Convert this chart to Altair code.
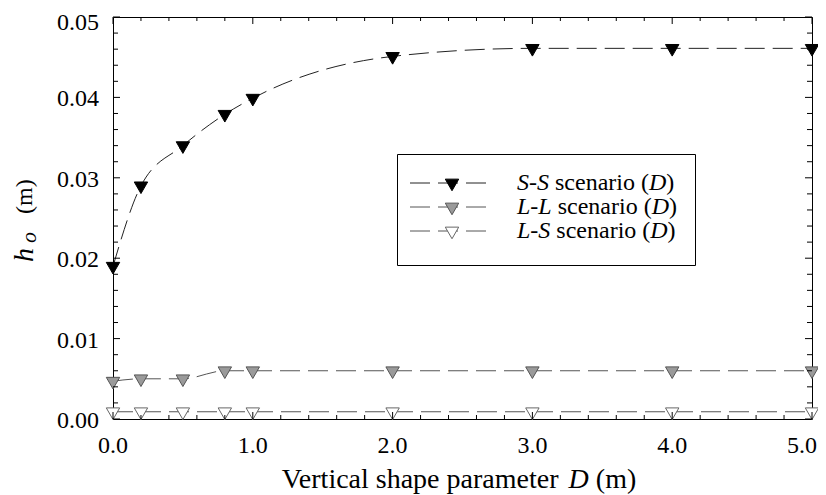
import altair as alt
import pandas as pd

# ---------------- data ----------------
D_values = [0.0, 0.2, 0.5, 0.8, 1.0, 2.0, 3.0, 4.0, 5.0]
ss_values = [0.0190, 0.0290, 0.0340, 0.0379, 0.0399, 0.0451, 0.0461, 0.0461, 0.0461]
ll_values = [0.0047, 0.0050, 0.0050, 0.0060, 0.0060, 0.0060, 0.0060, 0.0060, 0.0060]
ls_values = [0.0009, 0.0009, 0.0009, 0.0009, 0.0009, 0.0009, 0.0009, 0.0009, 0.0009]
series_names = ["S-S", "L-L", "L-S"]

x_major = [0, 1, 2, 3, 4, 5]
x_minor = [0.2, 0.4, 0.6, 0.8, 1.2, 1.4, 1.6, 1.8, 2.2, 2.4, 2.6, 2.8,
           3.2, 3.4, 3.6, 3.8, 4.2, 4.4, 4.6, 4.8]
y_major = [0.0, 0.01, 0.02, 0.03, 0.04, 0.05]
y_minor = [0.002, 0.004, 0.006, 0.008, 0.012, 0.014, 0.016, 0.018,
           0.022, 0.024, 0.026, 0.028, 0.032, 0.034, 0.036, 0.038,
           0.042, 0.044, 0.046, 0.048]

# ---------------- layout / style ----------------
W, H = 699, 402
FONT = "Liberation Serif"
TRI = "M-1,-0.577L1,-0.577L0,1.155Z"  # down triangle centred on centroid
DASH = [20, 8]

styles = {
    "S-S": dict(line="#222222", fill="black", stroke="black"),
    "L-L": dict(line="#555555", fill="#9a9a9a", stroke="#555555"),
    "L-S": dict(line="#555555", fill="white", stroke="#666666"),
}

xscale = alt.Scale(domain=[0, 5], nice=False, zero=False)
yscale = alt.Scale(domain=[0, 0.05], nice=False, zero=False)

one = pd.DataFrame({"a": [0]})

ROMAN = {' ': .25, 's': .389, 'c': .444, 'e': .444, 'n': .5, 'a': .444, 'r': .333,
         'i': .278, 'o': .5, '(': .333, ')': .333, 'V': .722, 't': .278, 'l': .278,
         'h': .5, 'p': .5, 'm': .778}
ITAL = {'S': .5, 'L': .556, '-': .333, 'D': .722, 'h': .5, 'o': .5, ' ': .25}


def width(s, size, italic):
    tab = ITAL if italic else ROMAN
    return sum(tab.get(c, .5) for c in s) * size


def txt(s, x, y, size, italic=False, angle=0, align="left", baseline="alphabetic"):
    return alt.Chart(one).mark_text(
        text=s, font=FONT, fontSize=size,
        fontStyle="italic" if italic else "normal",
        angle=angle, align=align, baseline=baseline, color="black"
    ).encode(x=alt.value(x), y=alt.value(y))


def run(pieces, x0, y, size):
    """Lay out mixed-style pieces left to right; spaces become offsets."""
    out = []
    for s, it in pieces:
        lead = len(s) - len(s.lstrip(" "))
        x0 += width(" " * lead, size, it)
        core = s.strip(" ")
        if core:
            out.append(txt(core, x0, y, size, italic=it))
        x0 += width(s[lead:], size, it)
    return out


def xenc(field):
    return alt.X(field, scale=xscale, axis=None)


def yenc(field):
    return alt.Y(field, scale=yscale, axis=None)


layers = []
series_data = {"S-S": ss_values, "L-L": ll_values, "L-S": ls_values}

# plot frame (crisp, half-pixel aligned)
layers.append(alt.Chart(one).mark_rect(fill=None, stroke="black", strokeWidth=1).encode(
    x=alt.value(0.5), x2=alt.value(W + 0.5), y=alt.value(0.5), y2=alt.value(H + 0.5)))

# series lines
for name in series_names:
    df = pd.DataFrame({"D": D_values, "h": series_data[name]})
    st = styles[name]
    layers.append(alt.Chart(df).mark_line(
        color=st["line"], strokeWidth=1, strokeDash=DASH, interpolate="monotone"
    ).encode(x=xenc("D:Q"), y=yenc("h:Q")))

# series markers
for name in series_names:
    df = pd.DataFrame({"D": D_values, "h": series_data[name]})
    st = styles[name]
    layers.append(alt.Chart(df).mark_point(
        shape=TRI, size=180, fill=st["fill"], stroke=st["stroke"], strokeWidth=1,
        opacity=1, fillOpacity=1
    ).encode(x=xenc("D:Q"), y=yenc("h:Q")))


# inward ticks on all four sides
def xticks(vals, ln):
    df = pd.DataFrame({"v": vals})
    base = alt.Chart(df).mark_rule(color="black", strokeWidth=1)
    return [base.encode(x=xenc("v:Q"), y=alt.value(H), y2=alt.value(H - ln)),
            base.encode(x=xenc("v:Q"), y=alt.value(0), y2=alt.value(ln))]


def yticks(vals, ln):
    df = pd.DataFrame({"v": vals})
    base = alt.Chart(df).mark_rule(color="black", strokeWidth=1)
    return [base.encode(y=yenc("v:Q"), x=alt.value(0), x2=alt.value(ln)),
            base.encode(y=yenc("v:Q"), x=alt.value(W), x2=alt.value(W - ln))]


layers += xticks(x_major, 7) + xticks(x_minor, 4) + yticks(y_major, 7) + yticks(y_minor, 5)

# tick labels (end labels nudged so they stay inside the page)
layers.append(alt.Chart(pd.DataFrame({"v": x_major[:-1]})).mark_text(
    font=FONT, fontSize=24, align="center", baseline="alphabetic", color="black"
).encode(x=xenc("v:Q"), y=alt.value(H + 34), text=alt.Text("v:Q", format=".1f")))
layers.append(alt.Chart(pd.DataFrame({"v": x_major[-1:]})).mark_text(
    font=FONT, fontSize=24, align="right", baseline="alphabetic", color="black", dx=5
).encode(x=xenc("v:Q"), y=alt.value(H + 34), text=alt.Text("v:Q", format=".1f")))
layers.append(alt.Chart(pd.DataFrame({"v": y_major[:-1]})).mark_text(
    font=FONT, fontSize=24, align="right", baseline="alphabetic", color="black", dy=9
).encode(y=yenc("v:Q"), x=alt.value(-14), text=alt.Text("v:Q", format=".2f")))
layers.append(alt.Chart(pd.DataFrame({"v": y_major[-1:]})).mark_text(
    font=FONT, fontSize=24, align="right", baseline="alphabetic", color="black", dy=13
).encode(y=yenc("v:Q"), x=alt.value(-14), text=alt.Text("v:Q", format=".2f")))

# legend
layers.append(alt.Chart(one).mark_rect(fill="white", stroke="black", strokeWidth=1).encode(
    x=alt.value(284.5), x2=alt.value(582.5), y=alt.value(137.5), y2=alt.value(248.5)))
row_y = [166, 190, 214]
LEG = 24
for name, ry in zip(series_names, row_y):
    st = styles[name]
    layers.append(alt.Chart(one).mark_rule(color=st["line"], strokeWidth=1, strokeDash=DASH).encode(
        x=alt.value(297), x2=alt.value(377), y=alt.value(ry)))
    layers.append(alt.Chart(one).mark_point(
        shape=TRI, size=180, fill=st["fill"], stroke=st["stroke"], strokeWidth=1,
        opacity=1, fillOpacity=1).encode(x=alt.value(339), y=alt.value(ry)))
    layers += run([(name, True), (" scenario (", False), ("D", True), (")", False)],
                  404, ry + 7, LEG)

# x title
TT = 28
xt_pieces = [("Vertical shape parameter ", False), ("D", True), (" (m)", False)]
total = sum(width(s, TT, it) for s, it in xt_pieces)
layers += run(xt_pieces, 346 - total / 2, 471, TT)

# y title (rotated)
layers.append(txt("h", -80, 245, 28, italic=True, angle=270))
layers.append(txt("o", -77, 226, 22, italic=True, angle=270))
layers.append(txt("(m)", -81, 197, 24, italic=False, angle=270))

chart = alt.layer(*layers).properties(
    width=W, height=H,
    padding={"left": 105, "top": 9, "right": 6, "bottom": 76},
    autosize=alt.AutoSizeParams(type="none"),
).configure_view(stroke=None).configure(background="white")

chart.save("out.html", embed_options={"renderer": "svg", "actions": False})
